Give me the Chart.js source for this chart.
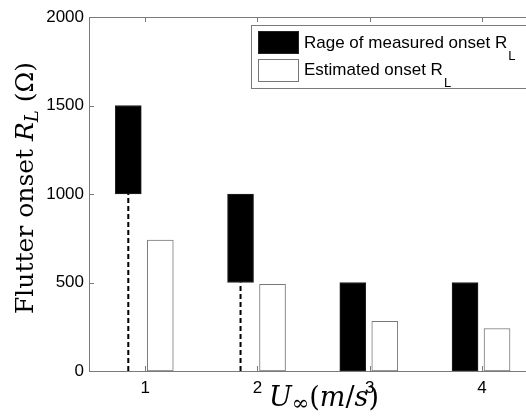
<!DOCTYPE html>
<html lang="en">
<head>
    <meta charset="UTF-8">
    <title>Flutter onset R_L</title>
    <script src="https://cdn.jsdelivr.net/npm/chart.js"></script>
    <style>
        html, body { margin:0; padding:0; background:#fff; overflow:hidden; }
        #wrap { width:540px; height:416px; }
        canvas { display:block; }
    </style>
</head>
<body>
    <div id="wrap"><canvas id="chart"></canvas></div>
    <script>
        // data
        const speeds = [1, 2, 3, 4];
        const measuredLow = [1000, 500, 0, 0];
        const measuredHigh = [1500, 1000, 500, 500];
        const estimated = [740, 490, 280, 240];
        const yTicks = [0, 500, 1000, 1500, 2000];
        const legendText = ['Rage of measured onset R', 'Estimated onset R'];

        // where each bar sits around its speed
        const measOff = -0.15, estOff = 0.135;
        const axisGray = '#7a7a7a';
        const serif = 'DejaVu Serif';

        const datasets = [
            {
                type:'bar', label:legendText[0],
                data: speeds.map((s, i) => ({ x: s + measOff, y: [measuredLow[i], measuredHigh[i]] })),
                backgroundColor:'#000', borderColor:'#222', borderWidth:1, borderSkipped:false,
                barThickness:26, grouped:false
            },
            {
                type:'bar', label:legendText[1],
                data: speeds.map((s, i) => ({ x: s + estOff, y: estimated[i] })),
                backgroundColor:'#fff', borderColor:'#777', borderWidth:1, borderSkipped:false,
                barThickness:26, grouped:false
            }
        ];
        // dashed stems under the floating bars
        speeds.forEach((s, i) => {
            if (measuredLow[i] > 0) datasets.push({
                type:'line',
                data:[{ x: s + measOff, y: 0 }, { x: s + measOff, y: measuredLow[i] }],
                borderColor:'#000', borderWidth:2, borderDash:[5, 3], pointRadius:0, fill:false
            });
        });

        function rich(ctx, parts, x, y) {
            let w = 0;
            parts.forEach(p => { ctx.font = p.f; w += ctx.measureText(p.t).width; });
            let cx = x - w / 2;
            parts.forEach(p => {
                ctx.font = p.f;
                ctx.fillText(p.t, cx, y + (p.dy || 0));
                cx += ctx.measureText(p.t).width;
            });
        }

        const decor = {
            id:'decor',
            afterDraw(chart) {
                const { ctx, chartArea:a, scales:{ x, y } } = chart;
                ctx.save();
                // frame and inward ticks
                ctx.strokeStyle = axisGray; ctx.lineWidth = 1;
                ctx.beginPath();
                ctx.moveTo(a.right, a.top + 0.5); ctx.lineTo(a.left + 0.5, a.top + 0.5);
                ctx.lineTo(a.left + 0.5, a.bottom + 0.5); ctx.lineTo(a.right, a.bottom + 0.5);
                speeds.forEach(s => {
                    const px = Math.round(x.getPixelForValue(s)) + 0.5;
                    ctx.moveTo(px, a.bottom); ctx.lineTo(px, a.bottom - 5);
                    ctx.moveTo(px, a.top); ctx.lineTo(px, a.top + 5);
                });
                yTicks.forEach(v => {
                    const py = Math.round(y.getPixelForValue(v)) + 0.5;
                    ctx.moveTo(a.left, py); ctx.lineTo(a.left + 5, py);
                });
                ctx.stroke();

                // legend
                ctx.fillStyle = '#fff';
                ctx.fillRect(251.5, 25.5, 300, 63);
                ctx.strokeRect(251.5, 25.5, 300, 63);
                ctx.fillStyle = '#000';
                ctx.fillRect(258, 31, 41, 22);
                ctx.strokeStyle = '#222';
                ctx.strokeRect(258.5, 31.5, 40, 22);
                ctx.fillStyle = '#fff';
                ctx.fillRect(258, 59, 41, 23);
                ctx.strokeStyle = '#777';
                ctx.strokeRect(258.5, 59.5, 40, 22);
                ctx.fillStyle = '#000';
                ctx.textBaseline = 'alphabetic';
                [[47.5, legendText[0]], [74.5, legendText[1]]].forEach(([by, t]) => {
                    ctx.font = '17px "Liberation Sans", Arial';
                    ctx.fillText(t, 304, by);
                    const w = ctx.measureText(t).width;
                    ctx.font = '13px "Liberation Sans", Arial';
                    ctx.fillText('L', 304 + w + 1, by + 12);
                });

                // axis titles
                ctx.fillStyle = '#000';
                rich(ctx, [
                    { t:'U', f:'italic 27px "' + serif + '"' },
                    { t:'\u221E', f:'21px "' + serif + '"', dy:4 },
                    { t:'(', f:'27px "' + serif + '"' },
                    { t:'m', f:'italic 27px "' + serif + '"' },
                    { t:'/', f:'27px "' + serif + '"' },
                    { t:'s', f:'italic 27px "' + serif + '"' },
                    { t:')', f:'27px "' + serif + '"' }
                ], 324, 406);
                ctx.translate(33, 188);
                ctx.rotate(-Math.PI / 2);
                rich(ctx, [
                    { t:'Flutter onset ', f:'25px "' + serif + '"' },
                    { t:'R', f:'italic 25px "' + serif + '"' },
                    { t:'L', f:'italic 18px "' + serif + '"', dy:5 },
                    { t:' (\u03A9)', f:'25px "' + serif + '"' }
                ], 0, 0);
                ctx.restore();
            }
        };

        Chart.defaults.font.family = '"Liberation Sans", Arial, sans-serif';
        Chart.defaults.font.size = 17;
        Chart.defaults.color = '#000';

        new Chart(document.getElementById('chart'), {
            data:{ datasets },
            options:{
                responsive:true, maintainAspectRatio:false, animation:false,
                layout:{ padding:{ top:17, right:2, left:0, bottom:0 } },
                plugins:{ legend:{ display:false }, tooltip:{ enabled:false } },
                scales:{
                    x:{
                        type:'linear', min:0.5, max:4.5, offset:false,
                        grid:{ display:false, drawTicks:false }, border:{ display:false },
                        ticks:{ padding:7, maxRotation:0, callback: v => String(v) },
                        afterBuildTicks: s => { s.ticks = speeds.map(v => ({ value:v })); },
                        afterFit: s => { s.height = 45; }
                    },
                    y:{
                        min:0, max:2000,
                        grid:{ display:false, drawTicks:false }, border:{ display:false },
                        ticks:{ padding:5, callback: v => String(v) },
                        afterBuildTicks: s => { s.ticks = yTicks.map(v => ({ value:v })); },
                        afterFit: s => { s.width = 89; }
                    }
                }
            },
            plugins:[decor]
        });
    </script>
</body>
</html>
